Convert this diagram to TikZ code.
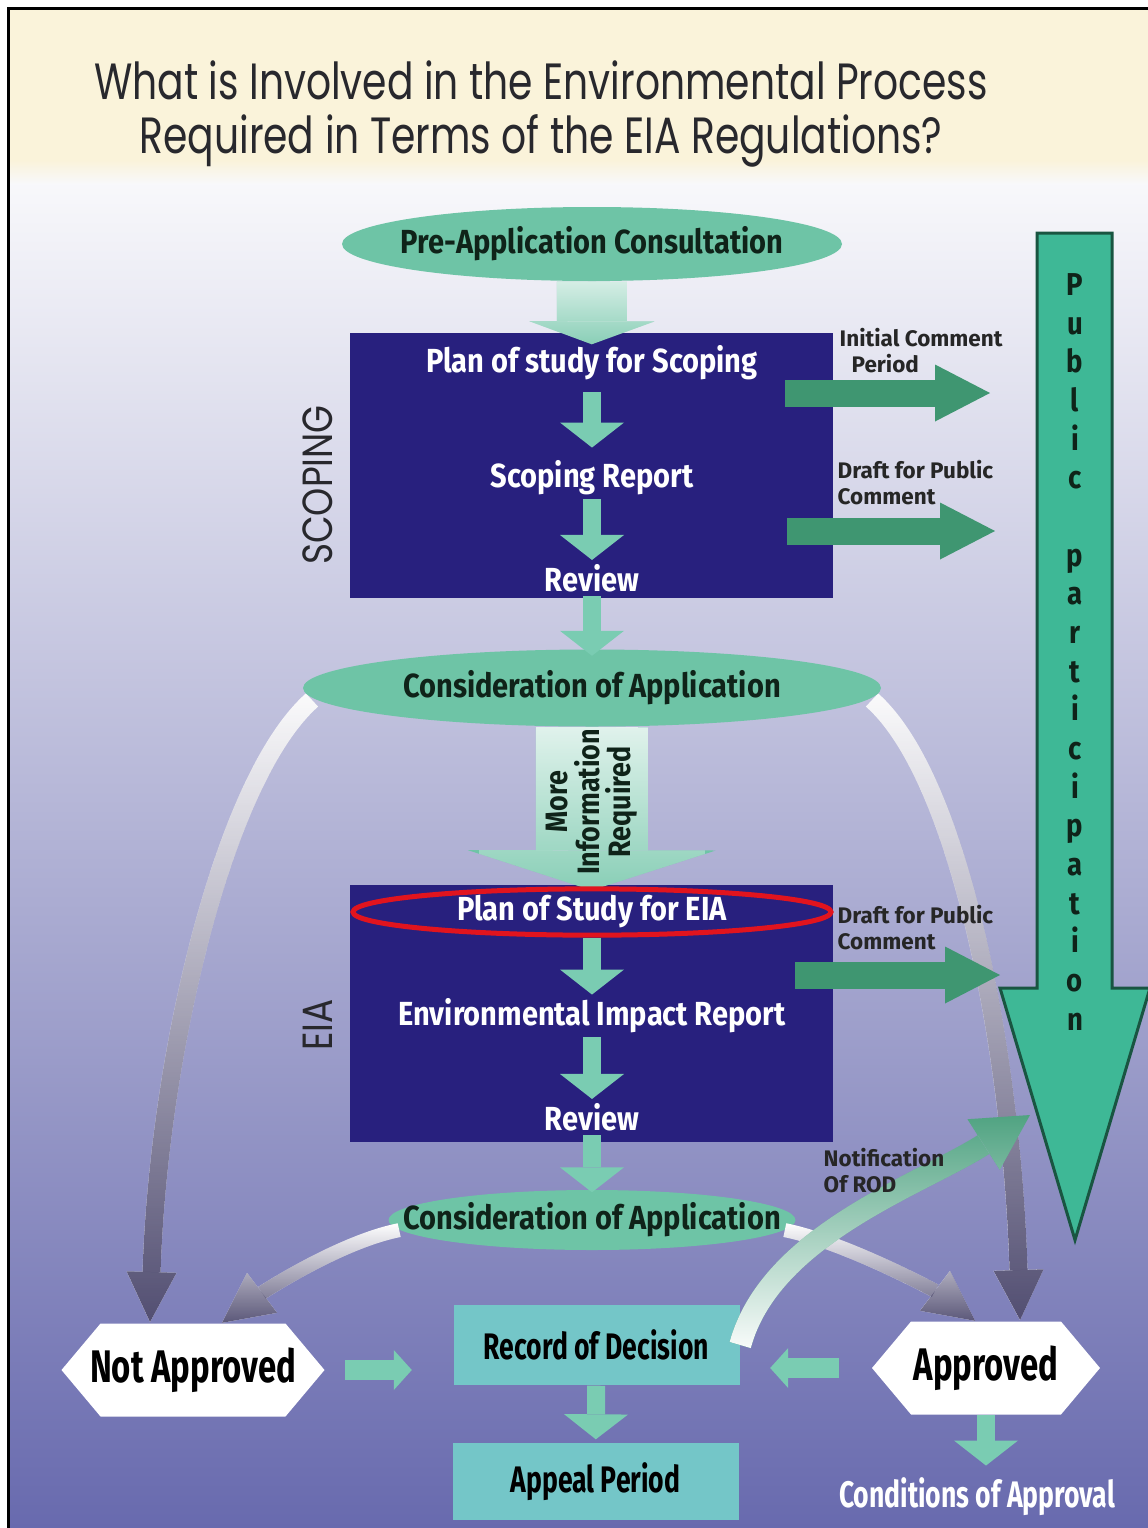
\documentclass[tikz,border=0pt]{standalone}
\usepackage{fontspec}
\setmainfont{Fira Sans}
\newfontfamily\titlefont[FakeStretch=0.77]{Poppins}
\newfontfamily\sidefont[FakeStretch=0.85]{Poppins}
\newfontfamily\labelfont[FakeStretch=0.87]{Fira Sans}
\newfontfamily\narrowfont[FakeStretch=0.72]{Fira Sans}
\usetikzlibrary{shapes.geometric,shapes.symbols,arrows.meta,fadings}

\definecolor{cream}{RGB}{250,243,218}
\definecolor{bgtop}{RGB}{248,248,251}
\definecolor{bgmid}{RGB}{186,188,222}
\definecolor{bgbot}{RGB}{104,106,174}
\definecolor{titlegray}{RGB}{40,40,45}
\definecolor{navybox}{RGB}{40,32,126}
\definecolor{ovalteal}{RGB}{110,196,166}
\definecolor{ovaltext}{RGB}{15,35,25}
\definecolor{stepteal}{RGB}{122,204,178}
\definecolor{sidegreen}{RGB}{63,150,113}
\definecolor{ppgreen}{RGB}{62,184,150}
\definecolor{ppedge}{RGB}{25,85,65}
\definecolor{rodteal}{RGB}{116,198,200}
\definecolor{grayarrow}{RGB}{80,76,112}
\definecolor{ringred}{RGB}{225,20,30}

\tikzfading[name=fadeup, top color=transparent!100, bottom color=transparent!0]
\tikzfading[name=fadedown, top color=transparent!0, bottom color=transparent!100]

\begin{document}
\begin{tikzpicture}[x=0.1mm, y=-0.1mm,
    bluebox/.style={fill=navybox, minimum width=48.3mm, inner sep=0pt},
    inbox/.style={text=white, font=\labelfont\bfseries\fontsize{9.5}{11}\selectfont, inner sep=1pt},
    oval/.style={ellipse, fill=ovalteal, text=ovaltext, inner sep=0pt,
      font=\labelfont\bfseries\fontsize{9.5}{11}\selectfont},
    stepdown/.style={draw=stepteal, line width=1.8mm,
      -{Triangle[width=6.4mm, length=2.5mm, line width=0pt]}},
    sidearrow/.style={draw=sidegreen, line width=2.7mm,
      -{Triangle[width=5.7mm, length=5.5mm, line width=0pt]}},
    sidetext/.style={font=\bfseries\fontsize{6.4}{7.4}\selectfont, text=black!85,
      align=left, anchor=west, inner sep=0pt},
    hexa/.style={signal, signal to=west and east, signal pointer angle=100, fill=white,
      minimum height=9.3mm, inner sep=0pt, font=\narrowfont\bfseries\fontsize{13}{14}\selectfont},
    tealbox/.style={fill=rodteal, minimum width=28.6mm, inner sep=0pt,
      font=\narrowfont\bfseries\fontsize{10.5}{13}\selectfont},
    smallstep/.style={draw=stepteal, line width=2mm,
      -{Triangle[width=4mm, length=1.8mm, line width=0pt]}},
    grayconn/.style={draw=white, -{Triangle[width=5mm, length=5mm, line width=0pt]},
      postaction={draw=grayarrow, path fading=fadeup}},
  ]
  \useasboundingbox (0,0) rectangle (1148,1528);
  % Background
  \fill[white] (0,0) rectangle (1148,1528);
  \shade[top color=bgtop, middle color=bgmid, bottom color=bgbot] (8,180) rectangle (1148,1528);
  % Title band
  \fill[cream] (8,8) rectangle (1148,160);
  \shade[top color=cream, bottom color=bgtop] (8,160) rectangle (1148,184);
  \draw[line width=0.3mm] (8,1528) -- (8,8) -- (1148,8);
  \node[font=\titlefont\fontsize{14.5}{15.4}\selectfont, align=center, text=titlegray] (title)
    at (541,114) {What is Involved in the Environmental Process\\Required in Terms of the EIA Regulations?};

  % Public participation
  \draw[fill=ppgreen, draw=ppedge, line width=0.3mm] (1037,233) -- (1112,233) -- (1112,988)
    -- (1150,988) -- (1075,1240) -- (1000,988) -- (1037,988) -- cycle;
  \node[font=\labelfont\bfseries\fontsize{9}{11}\selectfont, align=center, inner sep=0pt,
    anchor=north, text=ovaltext] (pp) at (1075,273)
    {P\\u\\b\\l\\i\\c\\[11pt]p\\a\\r\\t\\i\\c\\i\\p\\a\\t\\i\\o\\n};

  % Ovals and boxes
  \node[oval, minimum width=50mm, minimum height=7.4mm] (pre) at (592,244) {\makebox[0pt]{Pre-Application Consultation}};
  \node[bluebox, minimum height=26.5mm] (scop) at (591.5,465.5) {};
  \node[inbox] (plan) at (592,363) {Plan of study for Scoping};
  \node[inbox] (screp) at (592,478) {Scoping Report};
  \node[inbox] (rev1) at (592,578) {Review};
  \node[font=\sidefont\fontsize{12}{12}\selectfont, rotate=90, text=titlegray] (scopinglab) at (318,485) {SCOPING};

  \node[bluebox, minimum height=25.7mm] (eia) at (591.5,1013.5) {};
  \node[inbox] (eir) at (592,1016) {Environmental Impact Report};
  \node[inbox] (rev2) at (592,1117) {Review};
  \node[font=\sidefont\fontsize{12}{12}\selectfont, rotate=90, text=titlegray] (eialab) at (318,1025) {EIA};

  % Gray loops
  \draw[grayconn, line width=1.8mm] (592,688) ++(-280,12) .. controls +(-90,80) and +(8,-260) .. (150,1322);
  \draw[grayconn, line width=1.8mm] (592,688) ++(280,12) .. controls +(90,80) and +(-8,-260) .. (1020,1320);

  \node[oval, minimum width=57.8mm, minimum height=7.7mm] (cons1) at (592,688) {\makebox[0pt]{Consideration of Application}};
  \node[oval, minimum width=40.7mm, minimum height=6mm] (cons2) at (592,1220) {\makebox[0pt]{Consideration of Application}};

  \node[hexa, minimum width=26.3mm] (notok) at (193,1370) {\makebox[0pt]{Not Approved}};
  \node[hexa, minimum width=22.8mm] (ok) at (986,1368) {\makebox[0pt]{Approved}};
  \node[tealbox, minimum height=8mm] (rod) at (596.5,1345) {Record of Decision};
  \node[tealbox, minimum height=7.7mm] (appeal) at (595.5,1481.5) {Appeal Period};
  \node[font=\narrowfont\bfseries\fontsize{10.5}{12}\selectfont, text=white] (cond) at (977,1497) {Conditions of Approval};

  % Decision arrows
  \draw[grayconn, line width=1.4mm] (cons2.183) .. controls +(-60,12) and +(40,-30) .. ([xshift=2.9mm]notok.north);
  \draw[grayconn, line width=1.4mm] (cons2.357) .. controls +(60,12) and +(-40,-30) .. ([xshift=-1.1mm]ok.north);

  % Main flow
  \draw[draw=ovalteal, line width=7mm, -{Triangle[width=12.5mm, length=2.3mm, line width=0pt]},
    shorten >=-1.2mm, postaction={draw=white, path fading=fadedown}] (pre) -- (scop);
  \draw[stepdown, shorten <=0.8mm, shorten >=0.9mm] (plan) -- (screp);
  \draw[stepdown] (screp) -- (rev1);
  \draw[stepdown, shorten >=-0.7mm] (rev1) -- (cons1);
  \draw[draw=ovalteal, line width=11.2mm, -{Triangle[width=24.8mm, length=4mm, line width=0pt]},
    shorten >=-0.6mm, postaction={draw=white, path fading=fadedown}] (cons1) -- (eia);
  \node[font=\labelfont\bfseries\fontsize{8.8}{9}\selectfont, rotate=90, align=center, text=ovaltext]
    (more) at (592,802) {More\\Information\\Required};

  \node[ellipse, draw=ringred, line width=0.5mm, inner sep=0pt, minimum width=47.8mm, minimum height=4.3mm,
    text=white, font=\labelfont\bfseries\fontsize{9.5}{11}\selectfont] (plan2) at (592,912) {Plan of Study for EIA};
  \draw[stepdown] (plan2) -- (eir);
  \draw[stepdown] (eir) -- (rev2);
  \draw[stepdown, shorten >=-0.3mm] (rev2) -- (cons2);

  % Comment periods
  \coordinate (s1) at (785,393);
  \coordinate (e1) at (990,393);
  \coordinate (s2) at (787,531);
  \coordinate (e2) at (995,531);
  \coordinate (s3) at (795,975);
  \coordinate (e3) at (1000,975);
  \draw[sidearrow] (s1) -- (e1);
  \draw[sidearrow] (s2) -- (e2);
  \draw[sidearrow] (s3) -- (e3);
  \node[sidetext] (ic) at (839,351) {Initial Comment\\\hspace*{1.2mm}Period};
  \node[sidetext] (dpc1) at (837,483) {Draft for Public\\Comment};
  \node[sidetext] (dpc2) at (837,928) {Draft for Public\\Comment};

  % Notification
  \coordinate (rodtip) at (1030,1115);
  \draw[draw=sidegreen!80!ovalteal, line width=2.2mm, -{Triangle[width=6mm, length=5.5mm, line width=0pt]},
    postaction={draw=white, path fading=fadeup}] (rod.east) .. controls +(30,-110) and +(-110,70) .. (rodtip);
  \node[sidetext] (nrod) at (823,1171) {Notification\\Of ROD};

  % Record of decision
  \draw[smallstep, shorten <=2mm, shorten >=4.1mm] (notok.east) -- (notok.east -| rod.west);
  \draw[smallstep, shorten <=3.2mm, shorten >=3mm] (ok.west) -- (ok.west -| rod.east);
  \draw[stepdown, shorten >=0.3mm] (rod) -- (appeal);
  \draw[stepdown] (ok.south) -- (ok.south |- cond.north);
\end{tikzpicture}
\end{document}
